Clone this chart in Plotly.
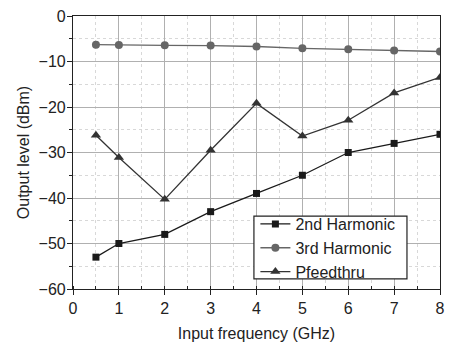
import plotly.graph_objects as go

freq = [0.5, 1, 2, 3, 4, 5, 6, 7, 8]
h2 = [-53, -50, -48, -43, -39, -35, -30, -28, -26]
h3 = [-6.3, -6.4, -6.45, -6.5, -6.7, -7.1, -7.3, -7.6, -7.8]
pfeed = [-26.2, -31.1, -40.3, -29.5, -19.2, -26.4, -22.9, -16.9, -13.5]

fig = go.Figure()
fig.add_trace(go.Scatter(x=freq, y=h2, name="2nd Harmonic", mode="lines+markers",
                         line=dict(color="#1a1a1a", width=1.3),
                         marker=dict(symbol="square", size=7, color="#1a1a1a")))
fig.add_trace(go.Scatter(x=freq, y=h3, name="3rd Harmonic", mode="lines+markers",
                         line=dict(color="#666666", width=1.3),
                         marker=dict(symbol="circle", size=8, color="#666666")))
fig.add_trace(go.Scatter(x=freq, y=pfeed, name="Pfeedthru", mode="lines+markers",
                         line=dict(color="#333333", width=1.3),
                         marker=dict(symbol="triangle-up", size=9, color="#333333")))

font = dict(family="Liberation Sans, Arial, sans-serif", size=16, color="#222")
fig.update_layout(
    width=449, height=342,
    margin=dict(l=73, r=9, t=16, b=53),
    paper_bgcolor="white", plot_bgcolor="white",
    font=font,
    showlegend=True,
    legend=dict(x=0.497, y=0.150, xanchor="left", yanchor="middle",
                bgcolor="rgba(0,0,0,0)", borderwidth=0,
                font=dict(size=16), tracegroupgap=0, itemwidth=30),
    shapes=[dict(type="rect", xref="paper", yref="paper",
                 x0=0.493, x1=0.910, y0=0.037, y1=0.267,
                 fillcolor="white", line=dict(color="#222", width=1.2), layer="above")],
)
fig.update_xaxes(range=[0, 8], tickvals=[0, 1, 2, 3, 4, 5, 6, 7, 8], automargin=False,
                 showline=True, linecolor="#222", linewidth=1.2, mirror=True,
                 ticks="outside", ticklen=5, tickcolor="#222",
                 showgrid=True, gridcolor="#b0b0b0", gridwidth=1,
                 minor=dict(dtick=0.5, showgrid=True, gridcolor="#d8d8d8", griddash="dot",
                            ticks="inside", ticklen=3, tickcolor="#222"),
                 zeroline=False,
                 title=dict(text="Input frequency (GHz)", standoff=18, font=dict(size=16)))
fig.update_yaxes(range=[-60, 0], tickvals=[0, -10, -20, -30, -40, -50, -60], automargin=False,
                 showline=True, linecolor="#222", linewidth=1.2, mirror=True,
                 ticks="outside", ticklen=5, tickcolor="#222", ticklabelstandoff=-2,
                 showgrid=True, gridcolor="#b0b0b0", gridwidth=1,
                 minor=dict(dtick=5, showgrid=True, gridcolor="#d8d8d8", griddash="dot",
                            ticks="outside", ticklen=3, tickcolor="#222"),
                 zeroline=False,
                 title=dict(text="Output level (dBm)", standoff=4, font=dict(size=16)))

fig.write_html("out.html")
